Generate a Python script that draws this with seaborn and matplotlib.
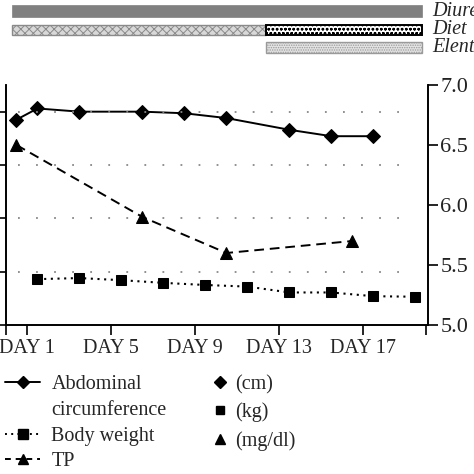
import matplotlib
matplotlib.use("Agg")
import matplotlib.pyplot as plt
from matplotlib.lines import Line2D
import seaborn as sns

# data
abd_day = [0.5, 1.5, 3.5, 6.5, 8.5, 10.5, 13.5, 15.5, 17.5]
abd_val = [78.5, 80.6, 80.0, 80.0, 79.7, 78.8, 76.6, 75.4, 75.4]

bw_day = [1.5, 3.5, 5.5, 7.5, 9.5, 11.5, 13.5, 15.5, 17.5, 19.5]
bw_val = [48.6, 48.8, 48.4, 47.9, 47.5, 47.2, 46.1, 46.1, 45.4, 45.3]

tp_day = [0.5, 6.5, 10.5, 16.5]
tp_val = [6.5, 5.9, 5.6, 5.7]

day_ticks = [0, 1, 5, 9, 13, 17, 20]
day_labels = ["", "DAY 1", "DAY 5", "DAY 9", "DAY 13", "DAY 17", ""]
left_ticks = [40, 50, 60, 70, 80]
right_ticks = [5.0, 5.5, 6.0, 6.5, 7.0]

# treatment bars on top
treat_names = ["Diuretic", "Diet", "Diet", "Elent"]
treat_start = [0.3, 0.3, 12.4, 12.4]
treat_end = [19.8, 12.4, 19.8, 19.8]

sns.set_style("ticks")
plt.rcParams["font.family"] = ["Liberation Serif", "DejaVu Serif"]
plt.rcParams["hatch.linewidth"] = 0.7

FS = 14.5
fig = plt.figure(figsize=(4.74, 4.74), dpi=100)
W = H = 474.0
ax = fig.add_axes([6 / W, (H - 325) / H, 422 / W, 240 / H])
ax2 = ax.twinx()

sns.lineplot(x=abd_day, y=abd_val, ax=ax, color="black", marker="D",
             markersize=7, linewidth=1.4, linestyle="-", markeredgecolor="black")
sns.lineplot(x=bw_day, y=bw_val, ax=ax, color="black", marker="s",
             markersize=7, linewidth=1.5, linestyle=(0, (1, 2.2)), markeredgecolor="black")
sns.lineplot(x=tp_day, y=tp_val, ax=ax2, color="black", marker="^",
             markersize=8.5, linewidth=1.4, linestyle=(0, (5, 3)), markeredgecolor="black")

ax.set_xlim(0, 20.1)
ax.set_ylim(40, 85)
ax2.set_ylim(5.0, 7.0)
ax.set_xticks(day_ticks)
ax.set_xticklabels(day_labels, fontsize=FS)
ax.set_yticks(left_ticks)
ax.set_yticklabels([])  # cropped away in the reference
ax2.set_yticks(right_ticks)
ax2.set_yticklabels([f"{v:.1f}" for v in right_ticks], fontsize=16, color="#222222")

ax.hlines(left_ticks[1:], 0.55, 19.4, colors="#888888", linewidth=1.3,
          linestyles=(0, (1, 9)))

for a in (ax, ax2):
    a.spines["top"].set_visible(False)
    a.tick_params(direction="out", length=7, width=1.2, color="black", pad=2)
    for s in a.spines.values():
        s.set_linewidth(1.2)
        s.set_color("black")
ax.tick_params(axis="x", pad=3)
ax.set_xlabel("")
ax.set_ylabel("")
ax2.set_ylabel("")

# top treatment bars
axt = fig.add_axes([6 / W, (H - 55) / H, 422 / W, 55 / H])
axt.set_xlim(0, 20.1)
axt.set_ylim(55, 0)
axt.axis("off")
bar_y = [11.3, 30, 30, 47.8]
bar_h = [12, 10, 10, 11]
faces = ["#808080", "#d8d8d8", "white", "#e4e4e4"]
edges = ["#808080", "#8a8a8a", "black", "#9a9a9a"]
hatches = [None, "xxxx", "oooo", "......."]
lws = [0.5, 1.0, 1.4, 1.0]
for i in range(len(treat_names)):
    axt.barh(bar_y[i], treat_end[i] - treat_start[i], left=treat_start[i],
             height=bar_h[i], color=faces[i], edgecolor=edges[i],
             hatch=hatches[i], linewidth=lws[i])
for name, yy in [("Diuretic", 11.3), ("Diet", 30), ("Elent", 47.8)]:
    axt.text(20.3, yy, name, fontsize=FS, fontstyle="italic", va="center",
             ha="left", clip_on=False)

# legends
h1 = [Line2D([], [], color="black", marker="D", markersize=6.5, linestyle="-", lw=1.4),
      Line2D([], [], linestyle="none"),
      Line2D([], [], color="black", marker="s", markersize=6.5, linestyle=(0, (1, 2.2)), lw=1.4),
      Line2D([], [], color="black", marker="^", markersize=7, linestyle=(0, (3, 2.5)), lw=1.4)]
l1 = ["Abdominal", "circumference", "Body weight", "TP"]
fig.legend(h1, l1, loc="upper left", bbox_to_anchor=(5 / W, (H - 375) / H),
           frameon=False, fontsize=FS, handlelength=1.75, handletextpad=0.55,
           borderpad=0, borderaxespad=0, labelspacing=0.33)

h2 = [Line2D([], [], color="black", marker="D", markersize=6, linestyle="none"),
      Line2D([], [], color="black", marker="s", markersize=6, linestyle="none"),
      Line2D([], [], color="black", marker="^", markersize=6.5, linestyle="none")]
l2 = ["(cm)", "(kg)", "(mg/dl)"]
fig.legend(h2, l2, loc="upper left", bbox_to_anchor=(213 / W, (H - 375) / H),
           frameon=False, fontsize=FS, handlelength=0.7, handletextpad=0.4,
           borderpad=0, borderaxespad=0, labelspacing=0.42)

fig.savefig("out.png", dpi=100)
